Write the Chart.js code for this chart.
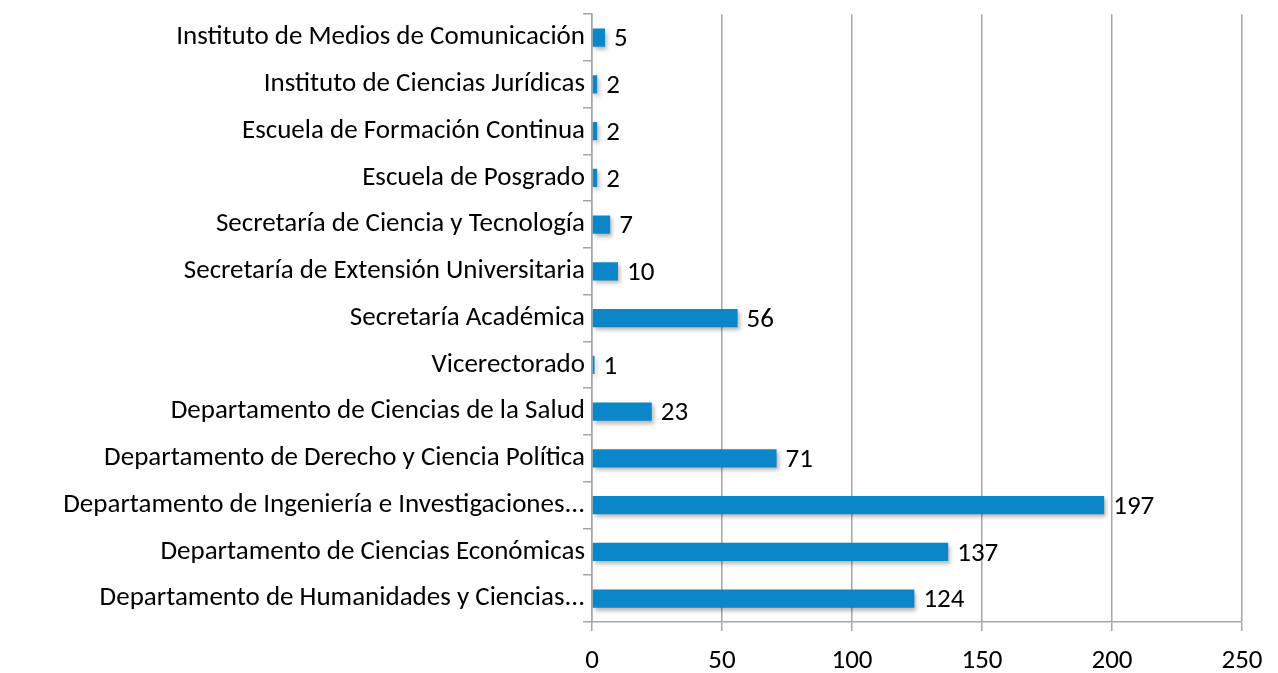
<!DOCTYPE html>
<html>
<head>
<meta charset="utf-8">
<script src="https://cdn.jsdelivr.net/npm/chart.js@4/dist/chart.umd.min.js"></script>
<style>
  html, body { margin: 0; padding: 0; background: #fff; }
  #wrap { width: 1278px; height: 673px; }
</style>
</head>
<body>
<div id="wrap"><canvas id="myChart" width="1278" height="673"></canvas></div>
<script>
// categorias (de arriba hacia abajo)
var categorias = [
    'Instituto de Medios de Comunicación',
    'Instituto de Ciencias Jurídicas',
    'Escuela de Formación Continua',
    'Escuela de Posgrado',
    'Secretaría de Ciencia y Tecnología',
    'Secretaría de Extensión Universitaria',
    'Secretaría Académica',
    'Vicerectorado',
    'Departamento de Ciencias de la Salud',
    'Departamento de Derecho y Ciencia Política',
    'Departamento de Ingeniería e Investigaciones...',
    'Departamento de Ciencias Económicas',
    'Departamento de Humanidades y Ciencias...'
];
var valores = [5, 2, 2, 2, 7, 10, 56, 1, 23, 71, 197, 137, 124];
var ticksX = [0, 50, 100, 150, 200, 250];

var fuente = 'Carlito, Calibri, "Liberation Sans Narrow", "DejaVu Sans Condensed", sans-serif';

// sombra suave debajo de las barras (estilo Excel)
var sombraPlugin = {
    id: 'sombra',
    beforeDatasetsDraw: function (chart) {
        var ctx = chart.ctx;
        ctx.save();
        ctx.shadowColor = 'rgba(0, 0, 0, 0.28)';
        ctx.shadowBlur = 4;
        ctx.shadowOffsetX = 2;
        ctx.shadowOffsetY = 3;
    },
    afterDatasetsDraw: function (chart) {
        chart.ctx.restore();
    }
};

// etiquetas de valor al final de cada barra
var etiquetasPlugin = {
    id: 'etiquetas',
    afterDatasetsDraw: function (chart) {
        var ctx = chart.ctx;
        var meta = chart.getDatasetMeta(0);
        ctx.save();
        ctx.font = '27px ' + fuente;
        ctx.fillStyle = '#000';
        ctx.textBaseline = 'middle';
        ctx.textAlign = 'left';
        meta.data.forEach(function (bar, i) {
            ctx.fillText(String(valores[i]), bar.x + 9, bar.y + 2);
        });
        ctx.restore();
    }
};

var ctx = document.getElementById('myChart').getContext('2d');
var myChart = new Chart(ctx, {
    type: 'bar',
    data: {
        labels: categorias,
        datasets: [{
            data: valores,
            backgroundColor: function (c) {
                var el = c.element;
                if (!el || !isFinite(el.y)) return '#0b86c8';
                var g = c.chart.ctx.createLinearGradient(0, el.y - 9, 0, el.y + 9);
                g.addColorStop(0, '#1298da');
                g.addColorStop(0.5, '#0a8acb');
                g.addColorStop(1, '#0870ae');
                return g;
            },
            borderWidth: 0,
            categoryPercentage: 0.39,
            barPercentage: 1
        }]
    },
    plugins: [sombraPlugin, etiquetasPlugin],
    options: {
        indexAxis: 'y',
        responsive: false,
        animation: false,
        layout: { padding: { left: 6, right: 36, top: 14, bottom: 0 } },
        plugins: { legend: { display: false }, tooltip: { enabled: false } },
        scales: {
            x: {
                min: 0,
                max: 250,
                afterBuildTicks: function (s) {
                    s.ticks = ticksX.map(function (v) { return { value: v }; });
                },
                afterFit: function (s) { s.height = 51; },
                grid: { color: '#a6a6a6', lineWidth: 1.5, tickLength: 9 },
                border: { color: '#a6a6a6', width: 1.5 },
                ticks: {
                    color: '#000',
                    padding: 14,
                    font: { family: fuente, size: 27 }
                }
            },
            y: {
                afterFit: function (s) { s.width = 586; },
                grid: { drawOnChartArea: false, color: '#a6a6a6', lineWidth: 1.5, tickLength: 9 },
                border: { color: '#a6a6a6', width: 1.5 },
                ticks: {
                    color: '#000',
                    padding: -2,
                    autoSkip: false,
                    font: { family: fuente, size: 27 }
                }
            }
        }
    }
});
</script>
</body>
</html>
